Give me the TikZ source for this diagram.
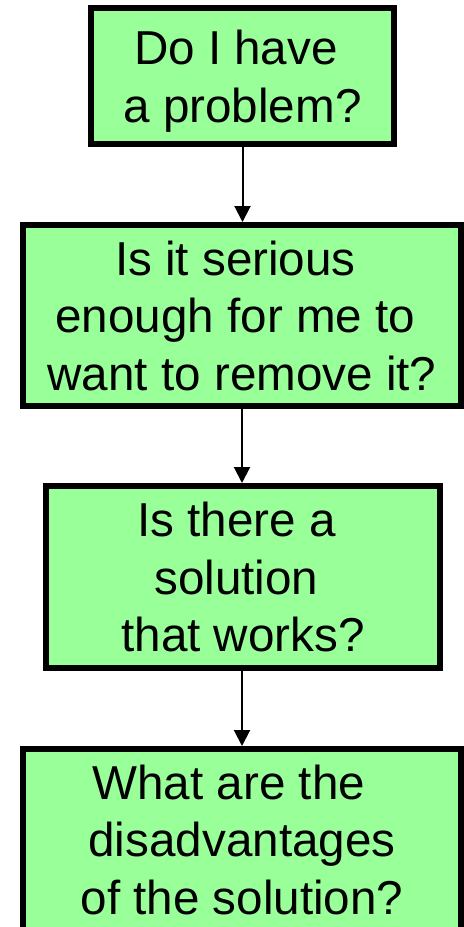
\documentclass[tikz,border=0pt]{standalone}
\usepackage{fontspec}
\setmainfont{Liberation Sans}
\usetikzlibrary{arrows.meta}
\definecolor{boxgreen}{RGB}{153,255,153}
\newcommand{\tsp}{\hphantom{\ }}
\begin{document}
\begin{tikzpicture}[x=0.5pt,y=-0.5pt,
  qbox/.style={draw=black, line width=3pt, fill=boxgreen, inner sep=0pt,
    align=center, text depth=0pt,
    font=\fontsize{23.8pt}{28.75pt}\selectfont},
  flow/.style={line width=1pt, -{Triangle[width=8pt,length=8pt]}}]
\clip (0,0) rectangle (464,927);
\fill[white] (0,0) rectangle (464,927);

\node[qbox, minimum width=151.5pt, minimum height=68pt] (q1) at (242.5,76)
  {Do I have\tsp\\a problem?};
\node[qbox, minimum width=219pt, minimum height=90.5pt] (q2) at (242,315.5)
  {Is it serious\tsp\\enough for me to\tsp\\want to remove it?};
\node[qbox, minimum width=197pt, minimum height=91pt] (q3) at (243,577)
  {Is there a\tsp\\solution\tsp\\that works?};
\node[qbox, minimum width=219pt, minimum height=90.5pt] (q4) at (242,839.5)
  {What are the\tsp\tsp\\disadvantages\\of the solution?};

\draw[flow] (q1.south) -- (q1.south |- q2.north);
\draw[flow] (q2.south) -- (q2.south |- q3.north);
\draw[flow] (q3.south -| q2.south) -- (q2.south |- q4.north);
\end{tikzpicture}
\end{document}
